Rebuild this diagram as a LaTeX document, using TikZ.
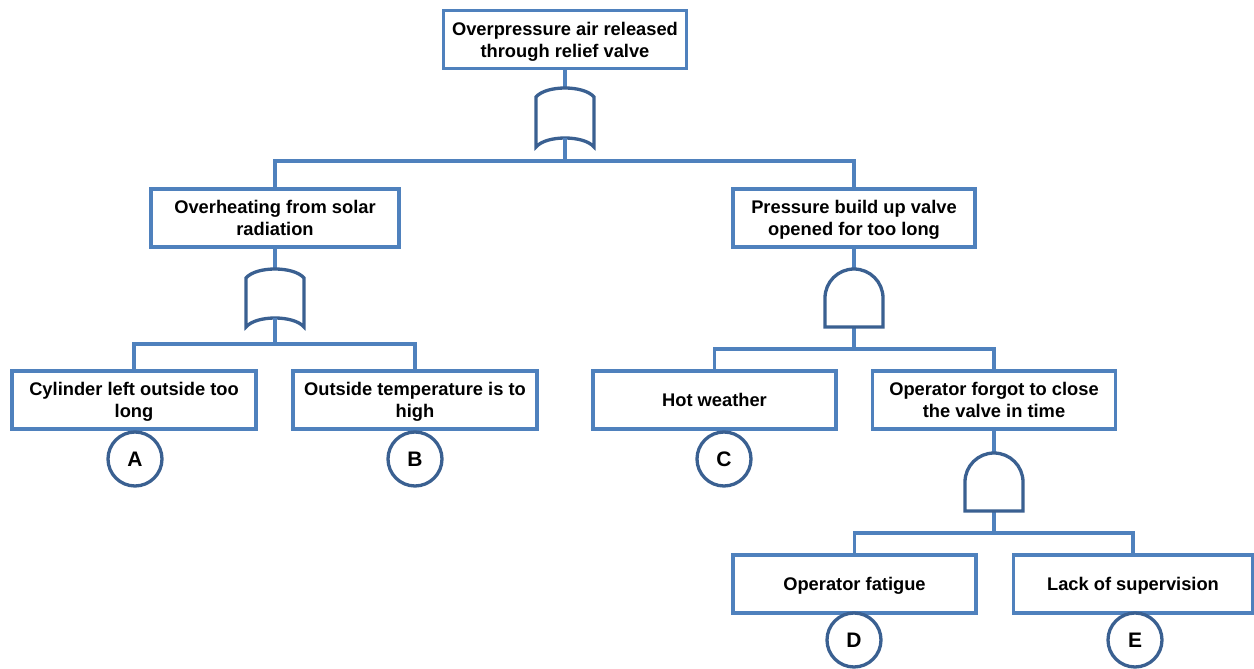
\documentclass[tikz,border=0pt]{standalone}
\usepackage{fontspec}
\setmainfont{Liberation Sans}
\definecolor{boxblue}{HTML}{4F81BD}
\definecolor{gateblue}{HTML}{3A6091}
\begin{document}
\begin{tikzpicture}[x=1pt,y=-1pt,
  evbox/.style={draw=boxblue,line width=3.3pt,fill=white,minimum height=58pt,align=center,
    inner sep=2pt,text depth=0pt,font=\fontsize{18.3}{22}\selectfont\bfseries},
  conn/.style={draw=boxblue,line width=3.3pt},
  gatel/.style={draw=gateblue,line width=3.3pt,fill=white,line join=miter},
  basic/.style={circle,draw=gateblue,line width=3.3pt,fill=white,minimum size=54pt,inner sep=0pt,
    font=\fontsize{21}{24}\selectfont\bfseries}]
\useasboundingbox (0,0) rectangle (1254,669);
% events
\node[evbox,minimum width=243pt] (top) at (565,39.5) {Overpressure air released\\through relief valve};
\node[evbox,minimum width=248pt] (ov) at (275,218) {Overheating from solar\\radiation};
\node[evbox,minimum width=242pt] (pb) at (854,218) {Pressure build up valve\\opened for too long};
\node[evbox,minimum width=244pt] (cyl) at (134,400) {Cylinder left outside too\\long};
\node[evbox,minimum width=244pt] (ot) at (415,400) {Outside temperature is to\\high};
\node[evbox,minimum width=243pt] (hw) at (714.5,400) {Hot weather};
\node[evbox,minimum width=243pt] (of) at (994,400) {Operator forgot to close\\the valve in time};
\node[evbox,minimum width=243pt] (fa) at (854.5,584) {Operator fatigue};
\node[evbox,minimum width=239pt] (ls) at (1133,584) {Lack of supervision};
% gate terminals and junctions
\coordinate (g1t) at (565,88); \coordinate (g1b) at (565,138);
\coordinate (g2t) at (275,269); \coordinate (g2b) at (275,318);
\coordinate (g3t) at (854,269); \coordinate (g3b) at (854,327);
\coordinate (g4t) at (994,453); \coordinate (g4b) at (994,511);
\coordinate (j1) at (565,161);
\coordinate (j2) at (275,344);
\coordinate (j3) at (854,349);
\coordinate (j4) at (994,533);
% connectors
\draw[conn] (top.south) -- (g1t);
\draw[conn] (ov.north) |- (j1) -| (pb.north);
\draw[conn] (ov.south) -- (g2t);
\draw[conn] (cyl.north) |- (j2) -| (ot.north);
\draw[conn] (pb.south) -- (g3t);
\draw[conn] (g3b) -- (j3);
\draw[conn] (j3) -| (hw.north);
\draw[conn] (j3) -| (of.north);
\draw[conn] (of.south) -- (g4t);
\draw[conn] (g4b) -- (j4);
\draw[conn] (j4) -| (fa.north);
\draw[conn] (j4) -| (ls.north);
% OR gates
\draw[gatel] (536,147) -- (536,97) .. controls (546,85) and (584,85) .. (594,97) -- (594,147) .. controls (584,135) and (546,135) .. (536,147) -- cycle;
\draw[conn] (g1b) -- (j1);
\draw[gatel] (246,327) -- (246,278) .. controls (256,266) and (294,266) .. (304,278) -- (304,327) .. controls (294,315) and (256,315) .. (246,327) -- cycle;
\draw[conn] (g2b) -- (j2);
% AND gates
\draw[gatel] (825,327) -- (825,298) arc[start angle=180,end angle=0,radius=29pt] -- (883,327) -- cycle;
\draw[gatel] (965,511) -- (965,482) arc[start angle=180,end angle=0,radius=29pt] -- (1023,511) -- cycle;
% basic events
\node[basic] (A) at (135,459) {A};
\node[basic] (B) at (415,459) {B};
\node[basic] (C) at (724,459) {C};
\node[basic] (D) at (854,640) {D};
\node[basic] (E) at (1135,640) {E};
\end{tikzpicture}
\end{document}
